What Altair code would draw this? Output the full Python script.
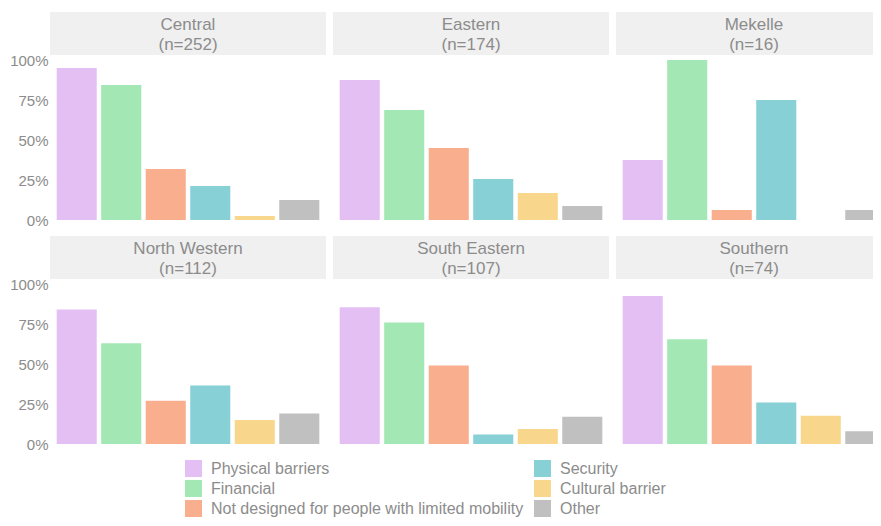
import altair as alt
import pandas as pd

regions = ["Central", "Eastern", "Mekelle", "North Western", "South Eastern", "Southern"]
region_n = [252, 174, 16, 112, 107, 74]
categories = ["Physical barriers", "Financial", "Not designed for people with limited mobility",
              "Security", "Cultural barrier", "Other"]
cat_colors = ["#E3BFF3", "#A3E7B5", "#F9AE8E", "#86D0D6", "#F8D78D", "#C0C0C0"]

central = [0.95, 0.844, 0.319, 0.2125, 0.025, 0.125]
eastern = [0.875, 0.6875, 0.45, 0.256, 0.169, 0.0875]
mekelle = [0.375, 1.0, 0.0625, 0.75, 0.0, 0.0625]
north_western = [0.84, 0.63, 0.27, 0.365, 0.15, 0.19]
south_eastern = [0.855, 0.76, 0.49, 0.06, 0.094, 0.17]
southern = [0.925, 0.655, 0.49, 0.26, 0.176, 0.08]

series = [central, eastern, mekelle, north_western, south_eastern, southern]

rows = []
for reg, n, vals in zip(regions, region_n, series):
    for c, v in zip(categories, vals):
        rows.append({"region": reg, "strip": f"{reg}\n(n={n})", "cat": c, "value": v})
df = pd.DataFrame(rows)

W, H = 276, 160
GRAY = "#8c8c8c"
FONT = "Liberation Sans"

base = alt.Chart()
first = alt.datum.cat == categories[0]

strip = base.transform_filter(first).mark_rect(color="#F0F0F0").encode(
    x=alt.value(0), x2=alt.value(W), y=alt.value(-48), y2=alt.value(-5)
)
label = base.transform_filter(first).mark_text(
    font=FONT, fontSize=17, color=GRAY, baseline="alphabetic", align="center",
    lineBreak="\n", lineHeight=20.5
).encode(x=alt.value(W / 2), y=alt.value(-30.5), text="strip:N")

bars = base.mark_bar().encode(
    x=alt.X("cat:N", sort=categories, axis=None,
            scale=alt.Scale(paddingInner=0.1, paddingOuter=0.15)),
    y=alt.Y("value:Q", title=None,
            scale=alt.Scale(domain=[0, 1], nice=False, zero=True),
            axis=alt.Axis(values=[0, 0.25, 0.5, 0.75, 1], format=".0%", ticks=False,
                          domain=False, grid=False, labelFont=FONT, labelFontSize=15,
                          labelColor=GRAY, labelPadding=2)),
    color=alt.Color("cat:N", scale=alt.Scale(domain=categories, range=cat_colors),
                    legend=alt.Legend(title=None, orient="none", legendX=135, legendY=400,
                                      columns=2, symbolType="square", symbolSize=289,
                                      symbolStrokeWidth=0, symbolOpacity=1,
                                      labelFont=FONT, labelFontSize=16, labelColor=GRAY,
                                      labelOffset=9, rowPadding=3, columnPadding=10,
                                      labelLimit=500, padding=0)),
)

chart = alt.layer(strip, label, bars, data=df).properties(width=W, height=H).facet(
    facet=alt.Facet("region:N", sort=regions, title=None,
                    header=alt.Header(labels=False, labelExpr="''", labelFontSize=1,
                                      labelPadding=0, titlePadding=0)),
    columns=3,
    spacing={"row": 64, "column": 7},
).properties(
    bounds="flush",
    autosize=alt.AutoSizeParams(type="none"),
    padding={"left": 42, "top": 52, "right": 823, "bottom": 458},
).configure_view(stroke=None)

chart.save("out.html", embed_options={"renderer": "svg", "actions": False})
